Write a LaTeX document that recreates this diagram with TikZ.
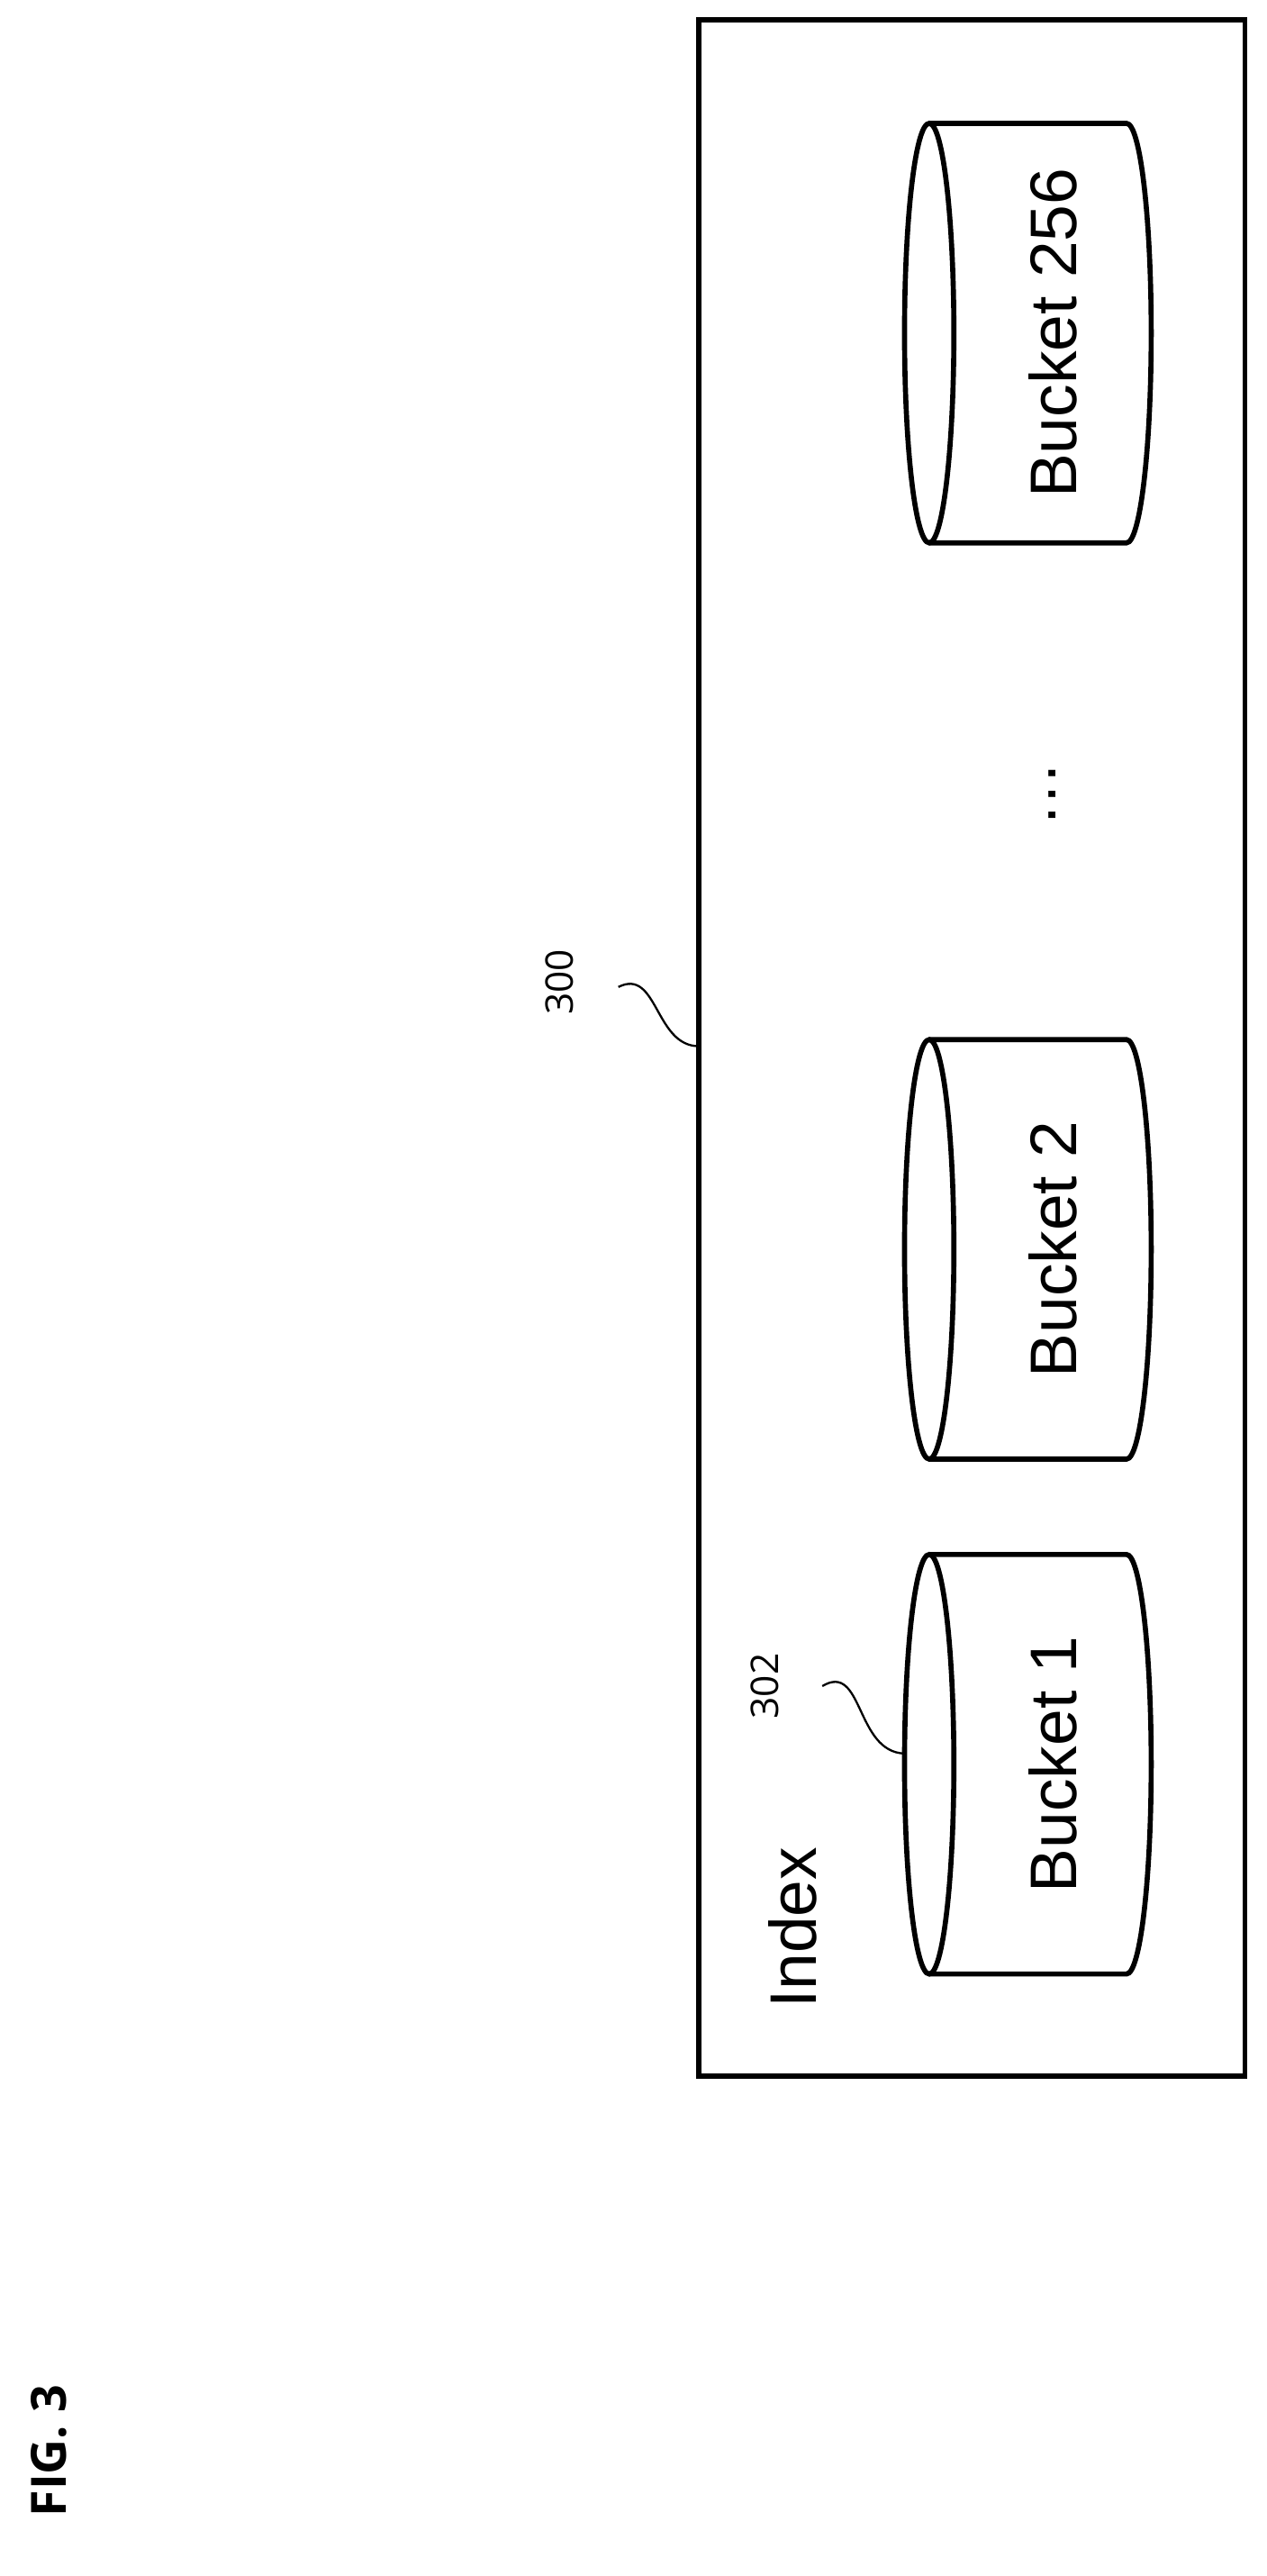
\documentclass[tikz,border=0pt]{standalone}
\usepackage{fontspec}
\setmainfont{Liberation Sans}
\newfontfamily\figfont{Open Sans}
\begin{document}
\begin{tikzpicture}[x=0.05cm,y=-0.05cm,
  thk/.style={line width=4.4pt},
  lbl/.style={rotate=90,font=\fontsize{57}{68}\selectfont},
  ref/.style={rotate=90,font=\figfont\fontsize{33}{40}\selectfont}]
\useasboundingbox (0,0) rectangle (770,1566);
\draw[thk] (425,12) rectangle (757,1262);
\node (box) at (591,637) {};
\foreach \n/\yt/\t in {b1/945/Bucket 1, b2/632/Bucket 2, b3/75/Bucket 256}{
  \draw[thk] (565,\yt+127.5) ellipse [x radius=15, y radius=127.5];
  \draw[thk] (565,\yt) -- (685,\yt) arc[start angle=-90,end angle=90,x radius=15,y radius=127.5] -- (565,\yt+255);
  \node[lbl] (\n) at (640,\yt+127.5) {\t};
}
\node[lbl] (index) at (482,1172) {Index};
\node[lbl] (dots) at (640,483) {\dots};
\node[ref] (r302) at (465,1025) {302};
\node[ref] (r300) at (340,597) {300};
\node[rotate=90,font=\figfont\bfseries\fontsize{42}{50}\selectfont] (fig) at (30,1490) {FIG. 3};
\draw[line width=1.8pt] (500,1025) .. controls (525,1010) and (520,1065) .. (550,1066);
\draw[line width=1.8pt] (376,600) .. controls (400,588) and (398,636) .. (425,636);
\end{tikzpicture}
\end{document}
